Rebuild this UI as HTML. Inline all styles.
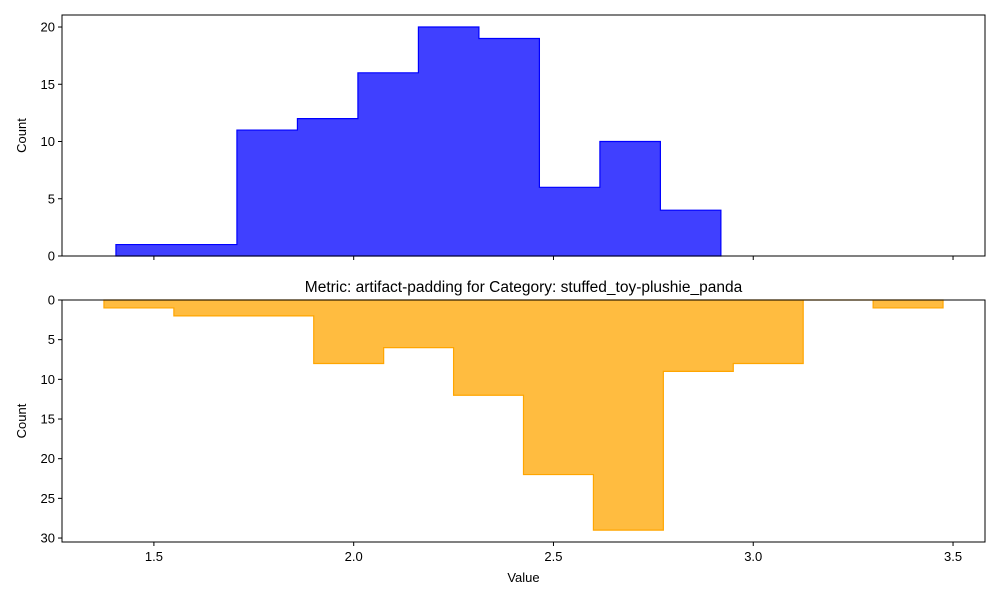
<!DOCTYPE html>
<html><head><meta charset="utf-8"><style>
body{margin:0;background:#fff;font-family:"Liberation Sans",sans-serif;}
svg text{font-family:"Liberation Sans",sans-serif;font-size:13px;fill:#000;}
</style></head><body>
<svg id="c" width="1000" height="600"></svg>
<script>
const topEdges0 = 1.405, topWidth = 0.1514;
const topCounts = [1,1,11,12,16,20,19,6,10,4];
const botEdges0 = 1.375, botWidth = 0.175;
const botCounts = [1,2,2,8,6,12,22,29,9,8,0,1];
const xTicks = [1.5,2.0,2.5,3.0,3.5];
const topYTicks = [0,5,10,15,20];
const botYTicks = [0,5,10,15,20,25,30];
const NS="http://www.w3.org/2000/svg";
const svg=document.getElementById('c');
const L=62,R=985;
const xMin=1.27,xMax=3.58;
const x=v=>L+(v-xMin)/(xMax-xMin)*(R-L);
function el(t,a,p){const e=document.createElementNS(NS,t);for(const k in a)e.setAttribute(k,a[k]);(p||svg).appendChild(e);return e;}
function txt(s,a){const e=el('text',a);e.textContent=s;return e;}
// top panel
const tT=15,tB=256,tMax=21.05;
const yt=v=>tB-v/tMax*(tB-tT);
// bottom panel (inverted)
const bT=300,bB=542,bMax=30.5;
const yb=v=>bT+v/bMax*(bB-bT);
function hist(counts,e0,w,yf,fill,stroke,name){
  let d='M'+x(e0)+','+yf(0);
  counts.forEach((c,i)=>{d+=' L'+x(e0+i*w)+','+yf(c)+' L'+x(e0+(i+1)*w)+','+yf(c);});
  d+=' L'+x(e0+counts.length*w)+','+yf(0)+' Z';
  const p=el('path',{d:d,fill:fill,stroke:stroke,'stroke-width':1.2});
  
  
}
hist(topCounts,topEdges0,topWidth,yt,'rgba(0,0,255,0.75)','#0000ff','top-histogram');
hist(botCounts,botEdges0,botWidth,yb,'rgba(255,165,0,0.75)','#ffa500','bottom-histogram');
el('rect',{x:L,y:tT,width:R-L,height:tB-tT,fill:'none',stroke:'#000','stroke-width':1});
el('rect',{x:L,y:bT,width:R-L,height:bB-bT,fill:'none',stroke:'#000','stroke-width':1});
topYTicks.forEach(v=>{el('line',{x1:L-4,x2:L,y1:yt(v),y2:yt(v),stroke:'#000'});
  const t=txt(v,{x:L-7,y:yt(v)+4.5,'text-anchor':'end'});});
botYTicks.forEach(v=>{el('line',{x1:L-4,x2:L,y1:yb(v),y2:yb(v),stroke:'#000'});
  const t=txt(v,{x:L-7,y:yb(v)+4.5,'text-anchor':'end'});});
xTicks.forEach(v=>{el('line',{x1:x(v),x2:x(v),y1:tB,y2:tB+4,stroke:'#000'});
  el('line',{x1:x(v),x2:x(v),y1:bB,y2:bB+4,stroke:'#000'});
  const t=txt(v.toFixed(1),{x:x(v),y:bB+19,'text-anchor':'middle'});});
let t;
t=txt('Count',{x:26,y:(tT+tB)/2,'text-anchor':'middle',transform:'rotate(-90 26 '+(tT+tB)/2+')'});

t=txt('Count',{x:26,y:(bT+bB)/2,'text-anchor':'middle',transform:'rotate(-90 26 '+(bT+bB)/2+')'});

t=txt('Value',{x:(L+R)/2,y:582,'text-anchor':'middle'});

t=txt('Metric: artifact-padding for Category: stuffed_toy-plushie_panda',{x:(L+R)/2,y:292,'text-anchor':'middle','style':'font-size:15.5px'});

</script>
</body></html>
